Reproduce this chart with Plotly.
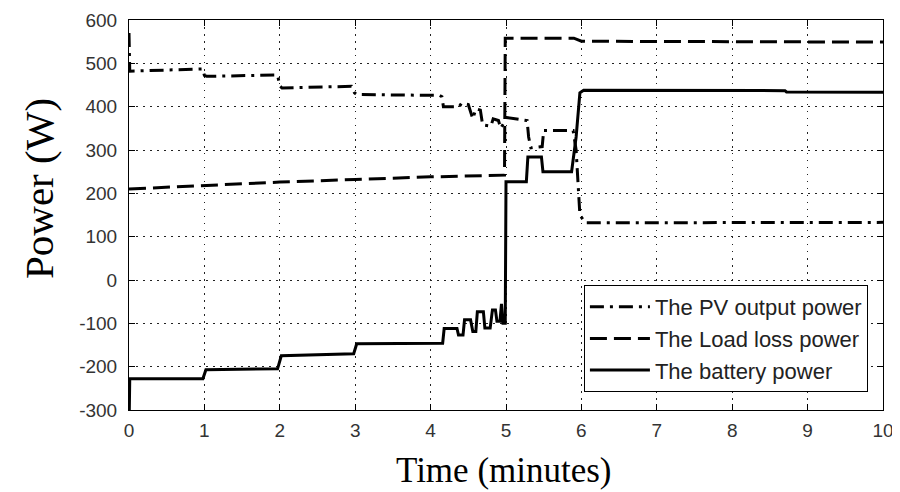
import plotly.graph_objects as go

# ---- data ----
t_pv = [0, 0.01, 0.98, 1.0, 1.03, 1.97, 2.0, 2.03, 2.95, 2.99, 3.02, 4.12, 4.15, 4.17,
        4.38, 4.41, 4.5, 4.53, 4.56, 4.6, 4.66, 4.69, 4.8, 4.83, 4.9, 4.93, 4.97, 5.0,
        5.28, 5.3, 5.33, 5.48, 5.5, 5.89, 5.93, 5.98, 6.05, 10]
p_pv = [570, 482, 487, 472, 470, 473, 448, 443, 447, 432, 428, 426, 423, 400,
        400, 408, 405, 390, 372, 395, 392, 358, 355, 372, 368, 350, 362, 375,
        368, 330, 305, 308, 345, 345, 300, 150, 132, 133]

t_load = [0, 1, 2, 3, 4, 4.98, 4.99, 5.9, 6.0, 10]
p_load = [210, 218, 226, 232, 238, 242, 558, 558, 551, 549]

t_bat = [0, 0.005, 0.01, 0.98, 1.0, 1.02, 1.97, 2.0, 2.02, 2.98, 3.0, 3.02, 4.16, 4.18,
         4.35, 4.37, 4.43, 4.45, 4.53, 4.56, 4.6, 4.62, 4.7, 4.72, 4.79, 4.82, 4.86,
         4.88, 4.92, 4.94, 4.96, 4.99, 5.0, 5.27, 5.29, 5.47, 5.49, 5.87, 5.93, 5.98,
         6.03, 8.7, 8.72, 10]
p_bat = [-350, -257, -228, -228, -215, -207, -205, -190, -175, -170, -160, -147, -146, -112,
         -112, -127, -127, -92, -92, -119, -119, -73, -73, -111, -111, -69, -69,
         -95, -95, -55, -100, -100, 227, 227, 284, 284, 250, 250, 330, 432,
         438, 437, 434, 433]

x_ticks = list(range(0, 11))
y_ticks = list(range(-300, 601, 100))

names = ["The PV output power", "The Load loss power", "The battery power"]
x_title = "Time (minutes)"
y_title = "Power (W)"

fig = go.Figure()
fig.add_trace(go.Scatter(x=t_pv, y=p_pv, mode="lines", name=names[0],
                         line=dict(color="black", width=3, dash="14px,6px,3px,6px")))
fig.add_trace(go.Scatter(x=t_load, y=p_load, mode="lines", name=names[1],
                         line=dict(color="black", width=3, dash="17px,7px")))
fig.add_trace(go.Scatter(x=t_bat, y=p_bat, mode="lines", name=names[2],
                         line=dict(color="black", width=3)))

tickfont = dict(family="Liberation Sans, Arial, sans-serif", size=19, color="#333333")
serif = "Liberation Serif, Times New Roman, serif"

fig.update_xaxes(range=[0, 10], tickvals=x_ticks, ticktext=[str(v) for v in x_ticks],
                 showline=True, linecolor="black", linewidth=1, mirror="ticks",
                 ticks="inside", ticklen=6, tickcolor="black",
                 showgrid=True, gridcolor="#222222", gridwidth=1, griddash="1.5px,5.5px",
                 zeroline=False, tickfont=tickfont, ticklabelstandoff=3, automargin=False)
fig.update_yaxes(range=[-300, 600], tickvals=y_ticks, ticktext=[str(v) for v in y_ticks],
                 showline=True, linecolor="black", linewidth=1, mirror="ticks",
                 ticks="inside", ticklen=6, tickcolor="black",
                 showgrid=True, gridcolor="#222222", gridwidth=1, griddash="1.5px,5.5px",
                 zeroline=False, tickfont=tickfont, ticklabelstandoff=7, automargin=False)

fig.add_annotation(text=x_title, xref="paper", yref="paper", x=0.498, y=-0.156,
                   xanchor="center", yanchor="middle", showarrow=False,
                   font=dict(family=serif, size=35, color="black"))
fig.add_annotation(text=y_title, xref="paper", yref="paper", x=-0.1195, y=0.569,
                   xanchor="center", yanchor="middle", showarrow=False, textangle=-90,
                   font=dict(family=serif, size=41, color="black"))

# page body has an 8px margin, so the figure is sized 892x484 to fit the 900x492 window
fig.update_layout(
    width=892, height=484,
    margin=dict(l=121, r=17, t=12, b=82, autoexpand=False),
    paper_bgcolor="white", plot_bgcolor="white",
    showlegend=True,
    legend=dict(x=0.98, y=0.046, xanchor="right", yanchor="bottom",
                bgcolor="white", bordercolor="black", borderwidth=1,
                font=dict(family="Liberation Sans, Arial, sans-serif", size=22, color="#222222"),
                itemwidth=60, tracegroupgap=0),
)

fig.write_html("out.html")
